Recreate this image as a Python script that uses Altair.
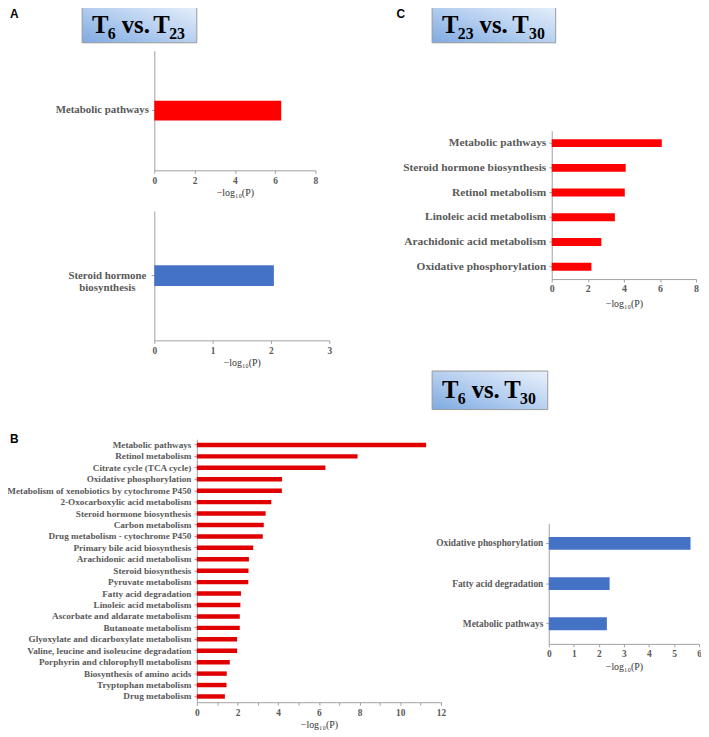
import altair as alt
import pandas as pd

# ---------------- data ----------------
a1_cats = ["Metabolic pathways"]
a1_vals = [6.3]

a2_cats = ["Steroid hormone biosynthesis"]
a2_vals = [2.05]

c_cats = ["Metabolic pathways", "Steroid hormone biosynthesis", "Retinol metabolism",
          "Linoleic acid metabolism", "Arachidonic acid metabolism", "Oxidative phosphorylation"]
c_vals = [6.1, 4.1, 4.05, 3.5, 2.75, 2.2]

b_cats = ["Metabolic pathways", "Retinol metabolism", "Citrate cycle (TCA cycle)",
          "Oxidative phosphorylation", "Metabolism of xenobiotics by cytochrome P450",
          "2-Oxocarboxylic acid metabolism", "Steroid hormone biosynthesis",
          "Carbon metabolism", "Drug metabolism - cytochrome P450",
          "Primary bile acid biosynthesis", "Arachidonic acid metabolism",
          "Steroid biosynthesis", "Pyruvate metabolism", "Fatty acid degradation",
          "Linoleic acid metabolism", "Ascorbate and aldarate metabolism",
          "Butanoate metabolism", "Glyoxylate and dicarboxylate metabolism",
          "Valine, leucine and isoleucine degradation",
          "Porphyrin and chlorophyll metabolism", "Biosynthesis of amino acids",
          "Tryptophan metabolism", "Drug metabolism"]
b_vals = [11.27, 7.90, 6.32, 4.19, 4.18, 3.66, 3.38, 3.29, 3.24, 2.77, 2.56,
          2.54, 2.53, 2.17, 2.14, 2.11, 2.11, 1.98, 1.98, 1.62, 1.47, 1.46, 1.38]

br_cats = ["Oxidative phosphorylation", "Fatty acid degradation", "Metabolic pathways"]
br_vals = [5.66, 2.43, 2.32]

# ---------------- layout helpers ----------------
W, H = 701, 729
SERIF = "Liberation Serif"
SANS = "Liberation Sans"
LABEL_C = "#595959"
AXIS_C = "#a0a0a0"
XTITLE = "\u2212log\u2081\u2080(P)"


def px(v):
    return v - 8


def bar_panel(cats, vals, color, xr, yr, dom, tick_vals, label_vals, thick,
              lsize, xlsize=9.5, ylabel_expr=None, ylabel_align="right",
              ylabel_pad=3, title_pad=3):
    df = pd.DataFrame({"pathway": cats, "value": vals})
    xr = [px(xr[0]), px(xr[1])]
    yr = [px(yr[0]), px(yr[1])]
    xaxis = dict(orient="bottom", offset=yr[1] - H, values=tick_vals, grid=False,
                 title=XTITLE, titleFont=SERIF, titleFontSize=10,
                 titleFontWeight="normal", titleColor="#333333", titlePadding=title_pad,
                 labelFont=SERIF, labelFontSize=xlsize, labelFontWeight="bold",
                 labelColor=LABEL_C, labelPadding=2, domainColor=AXIS_C,
                 tickColor=AXIS_C, tickSize=3, labelFlush=False)
    if label_vals is not None:
        xaxis["labelExpr"] = ("indexof(%s, datum.value) >= 0 ? datum.label : ''"
                              % str(label_vals))
    yaxis = dict(orient="left", offset=-xr[0], title=None, grid=False,
                 labelFont=SERIF, labelFontSize=lsize, labelFontWeight="bold",
                 labelColor=LABEL_C, labelPadding=ylabel_pad, labelLimit=400,
                 labelAlign=ylabel_align, domainColor=AXIS_C, tickColor=AXIS_C,
                 tickSize=3, labelLineHeight=lsize + 2)
    if ylabel_expr is not None:
        yaxis["labelExpr"] = ylabel_expr
    return alt.Chart(df).mark_bar(color=color, size=thick).encode(
        x=alt.X("value:Q",
                scale=alt.Scale(domain=dom, range=xr, nice=False, zero=True),
                axis=alt.Axis(**xaxis)),
        y=alt.Y("pathway:N", sort=cats,
                scale=alt.Scale(range=yr, paddingInner=0, paddingOuter=0),
                axis=alt.Axis(**yaxis)),
    )


one = alt.InlineData(values=[{"a": 1}])

grad = alt.LinearGradient(
    gradient="linear",
    stops=[alt.GradientStop(color="#7eaae2", offset=0),
           alt.GradientStop(color="#b7d0f0", offset=0.5),
           alt.GradientStop(color="#e9f1fb", offset=1)],
    x1=0, x2=1, y1=1, y2=0)


def title_box(x0, y0, x1, y1, pieces, base, sub_base):
    layers = [alt.Chart(one).mark_rect(fill=grad, stroke="#9a9a9a", strokeWidth=1).encode(
        x=alt.value(px(x0)), x2=alt.value(px(x1)),
        y=alt.value(px(y0)), y2=alt.value(px(y1)))]
    for txt, xl, is_sub in pieces:
        layers.append(alt.Chart(one).mark_text(
            text=txt, font=SERIF, fontWeight="bold",
            fontSize=16 if is_sub else 25, align="left", baseline="alphabetic",
            color="black").encode(
            x=alt.value(px(xl)), y=alt.value(px(sub_base if is_sub else base))))
    return layers


def letter(t, xl, yb):
    return alt.Chart(one).mark_text(text=t, font=SANS, fontWeight="bold",
                                     fontSize=12, align="left",
                                     baseline="alphabetic", color="black").encode(
        x=alt.value(px(xl)), y=alt.value(px(yb)))


# ---------------- panels ----------------
pA1 = bar_panel(a1_cats, a1_vals, "#ff0000", [156, 319], [47, 168], [0, 8],
                [0, 2, 4, 6, 8], None, 20, 11)
pA2 = bar_panel(a2_cats, a2_vals, "#4472c4", [156, 333], [209, 340], [0, 3],
                [0, 1, 2, 3], None, 21, 11,
                ylabel_expr="datum.value == 'Steroid hormone biosynthesis' ? ['Steroid hormone', 'biosynthesis'] : datum.label",
                ylabel_align="center", ylabel_pad=45)
pC = bar_panel(c_cats, c_vals, "#ff0000", [558, 704], [128, 278], [0, 8],
               [0, 2, 4, 6, 8], None, 8, 11.5, xlsize=10, title_pad=5)
pB = bar_panel(b_cats, b_vals, "#e00000", [199, 446], [440, 706], [0, 12],
               list(range(0, 13)), [0, 2, 4, 6, 8, 10, 12], 4.5, 9.3)
pBR = bar_panel(br_cats, br_vals, "#4472c4", [555, 707], [525, 647], [0, 6],
                [0, 1, 2, 3, 4, 5, 6], None, 13, 9.5)

deco = []
deco += title_box(83, -1, 199, 39,
                  [("T", 93, False), ("6", 109, True), ("vs.", 123, False),
                   ("T", 155, False), ("23", 171, True)], 29, 35)
deco += title_box(437, -1, 562, 39,
                  [("T", 447, False), ("23", 463, True), ("vs.", 485, False),
                   ("T", 518, False), ("30", 535, True)], 29, 35)
deco += title_box(437, 371, 554, 410,
                  [("T", 447, False), ("6", 463, True), ("vs.", 477, False),
                   ("T", 510, False), ("30", 526, True)], 398, 404)
deco += [letter("A", 10, 14), letter("C", 401, 14), letter("B", 10, 444)]

chart = alt.layer(pA1, pA2, pC, pB, pBR, *deco).resolve_scale(
    x="independent", y="independent"
).resolve_axis(
    x="independent", y="independent"
).properties(
    width=W, height=H, padding=0, autosize=alt.AutoSizeParams(type="none"),
    background="white"
).configure_view(stroke=None)

chart.save("out.html", embed_options={"renderer": "svg", "actions": False})
